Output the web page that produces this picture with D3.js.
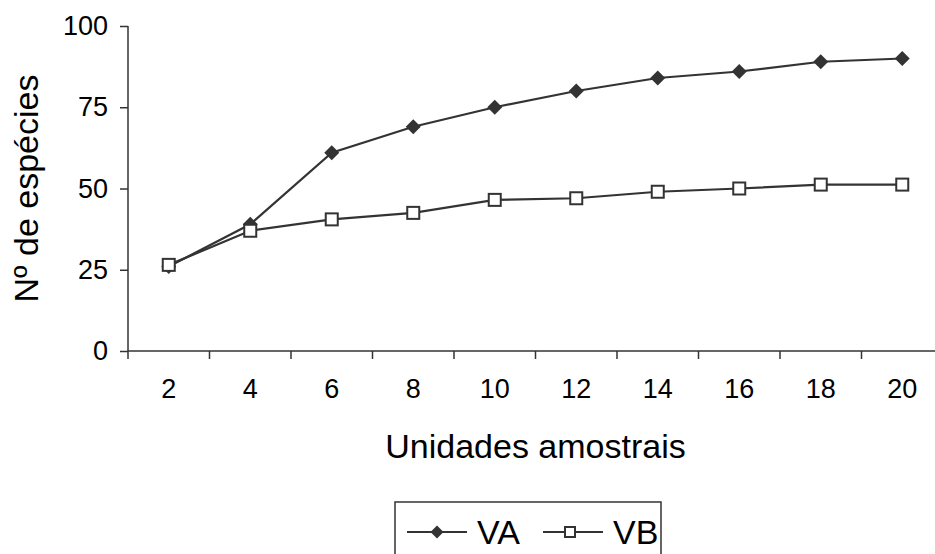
<!DOCTYPE html>
<html>
<head>
<meta charset="utf-8">
<script src="https://cdn.jsdelivr.net/npm/d3@7"></script>
<style>
  html, body { margin: 0; padding: 0; background: #fff; }
  svg { display: block; font-family: "Liberation Sans", Arial, sans-serif; }
</style>
</head>
<body>
<svg id="chart" width="935" height="554"></svg>
<script>
// Species accumulation by number of sampling units
const units = [2, 4, 6, 8, 10, 12, 14, 16, 18, 20];
const seriesVA = [26, 39, 61, 69, 75, 80, 84, 86, 89, 90];
const seriesVB = [26.5, 37, 40.5, 42.5, 46.5, 47, 49, 50, 51.2, 51.2];
const yTicks = [0, 25, 50, 75, 100];
const seriesNames = ["VA", "VB"];

const ink = "#333";
const svg = d3.select("#chart");

const plot = { left: 128, right: 943, top: 26, bottom: 351 };

const x = d3.scaleBand().domain(units).range([plot.left, plot.right]).padding(0);
const y = d3.scaleLinear().domain([0, 100]).range([plot.bottom, plot.top]);

// Y axis
const yAxis = svg.append("g")
  .attr("transform", `translate(${plot.left},0)`)
  .call(d3.axisLeft(y).tickValues(yTicks).tickSize(8).tickPadding(12));
yAxis.attr("font-family", "Liberation Sans, Arial, sans-serif");
yAxis.select(".domain").attr("stroke", ink).attr("stroke-width", 1.5)
  .attr("d", `M0,${plot.top}V${plot.bottom}`);
yAxis.selectAll(".tick line").attr("stroke", ink).attr("stroke-width", 1.5);
yAxis.selectAll(".tick text").attr("font-size", 27).attr("fill", "#000");

// X axis: ticks on category boundaries, labels centred in each band
const xAxis = svg.append("g").attr("transform", `translate(0,${plot.bottom})`);
xAxis.append("line")
  .attr("x1", plot.left).attr("x2", plot.right)
  .attr("stroke", ink).attr("stroke-width", 1.5);
const bounds = units.map(u => x(u)).concat([plot.right]);
xAxis.selectAll("line.tk").data(bounds).join("line")
  .attr("class", "tk")
  .attr("x1", d => d).attr("x2", d => d)
  .attr("y1", 0).attr("y2", 8)
  .attr("stroke", ink).attr("stroke-width", 1.5);
xAxis.selectAll("text").data(units).join("text")
  .attr("x", d => x(d) + x.bandwidth() / 2)
  .attr("y", 47)
  .attr("text-anchor", "middle")
  .attr("font-size", 27)
  .attr("fill", "#000")
  .text(d => d);

// Axis titles
svg.append("text")
  .attr("x", (plot.left + plot.right) / 2)
  .attr("y", 458)
  .attr("text-anchor", "middle")
  .attr("font-size", 34)
  .attr("fill", "#000")
  .text("Unidades amostrais");

svg.append("text")
  .attr("transform", `translate(38,${(plot.top + plot.bottom) / 2}) rotate(-90)`)
  .attr("text-anchor", "middle")
  .attr("font-size", 34)
  .attr("fill", "#000")
  .text("Nº de espécies");

// Series lines and markers
const cx = d => x(d) + x.bandwidth() / 2;
const line = d3.line().x((d, i) => cx(units[i])).y(d => y(d));

function diamondPath(r) {
  return `M0,${-r}L${r},0L0,${r}L${-r},0Z`;
}

svg.append("path").datum(seriesVA)
  .attr("d", line).attr("fill", "none")
  .attr("stroke", ink).attr("stroke-width", 2.2);
svg.append("path").datum(seriesVB)
  .attr("d", line).attr("fill", "none")
  .attr("stroke", ink).attr("stroke-width", 2.2);

svg.append("g").selectAll("path").data(seriesVA).join("path")
  .attr("transform", (d, i) => `translate(${cx(units[i])},${y(d)})`)
  .attr("d", diamondPath(7.5))
  .attr("fill", ink);

svg.append("g").selectAll("rect").data(seriesVB).join("rect")
  .attr("x", (d, i) => cx(units[i]) - 6)
  .attr("y", d => y(d) - 6)
  .attr("width", 12).attr("height", 12)
  .attr("fill", "#fff").attr("stroke", ink).attr("stroke-width", 2);

// Legend
const legend = svg.append("g");
legend.append("rect")
  .attr("x", 395).attr("y", 502)
  .attr("width", 266).attr("height", 70)
  .attr("fill", "#fff").attr("stroke", ink).attr("stroke-width", 1.5);

const legendItems = [
  { name: seriesNames[0], x0: 407, marker: "diamond" },
  { name: seriesNames[1], x0: 543, marker: "square" }
];
const ly = 532;
legendItems.forEach(it => {
  legend.append("line")
    .attr("x1", it.x0).attr("x2", it.x0 + 60)
    .attr("y1", ly).attr("y2", ly)
    .attr("stroke", ink).attr("stroke-width", 2);
  if (it.marker === "diamond") {
    legend.append("path")
      .attr("transform", `translate(${it.x0 + 30},${ly})`)
      .attr("d", diamondPath(6.5))
      .attr("fill", ink);
  } else {
    legend.append("rect")
      .attr("x", it.x0 + 27 - 5).attr("y", ly - 5)
      .attr("width", 10).attr("height", 10)
      .attr("fill", "#fff").attr("stroke", ink).attr("stroke-width", 2);
  }
  legend.append("text")
    .attr("x", it.x0 + 70)
    .attr("y", ly + 12)
    .attr("font-size", 34)
    .attr("fill", "#000")
    .text(it.name);
});
</script>
</body>
</html>
